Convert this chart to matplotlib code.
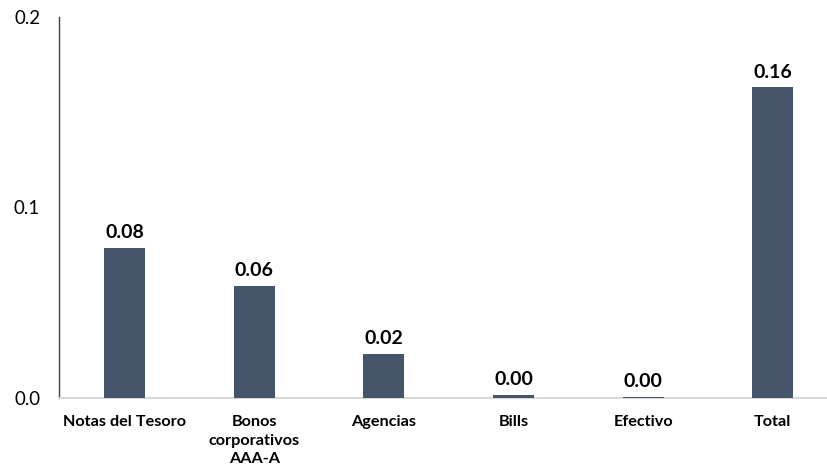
import matplotlib
matplotlib.use("Agg")
import matplotlib.pyplot as plt

categories = ["Notas del Tesoro", "Bonos\ncorporativos\nAAA-A", "Agencias", "Bills", "Efectivo", "Total"]
values = [0.079, 0.059, 0.023, 0.0015, 0.0007, 0.163]
labels = ["0.08", "0.06", "0.02", "0.00", "0.00", "0.16"]
yticks = [0.0, 0.1, 0.2]

plt.rcParams['font.family'] = ['Lato', 'DejaVu Sans']

fig = plt.figure(figsize=(8.27, 4.69), dpi=100)
ax = fig.add_axes([59/827, 71/469, 767/827, 381/469])

x = list(range(len(categories)))
ax.bar(x, values, width=0.315, color="#44546A", zorder=3)
for xi, v, lab in zip(x, values, labels):
    ax.annotate(lab, (xi, v), xytext=(0, 5), textcoords="offset points",
                ha="center", va="bottom", fontsize=14, fontweight="bold", color="black")

ax.set_xlim(-0.505, 5.41)
ax.set_ylim(0, 0.2)
ax.set_yticks(yticks)
ax.set_yticklabels([f"{t:.1f}" for t in yticks], fontsize=13.5)
ax.set_xticks(x)
ax.set_xticklabels(categories, fontsize=11.7, fontweight="bold", linespacing=1.4)
ax.tick_params(axis="both", length=0)
ax.tick_params(axis="y", pad=13.5)
ax.tick_params(axis="x", pad=12.5)

for s in ["top", "right"]:
    ax.spines[s].set_visible(False)
ax.spines["left"].set_color("#404040")
ax.spines["left"].set_linewidth(1.0)
ax.spines["bottom"].set_color("#D9D9D9")
ax.spines["bottom"].set_linewidth(1.5)

fig.savefig("out.png", dpi=100)
